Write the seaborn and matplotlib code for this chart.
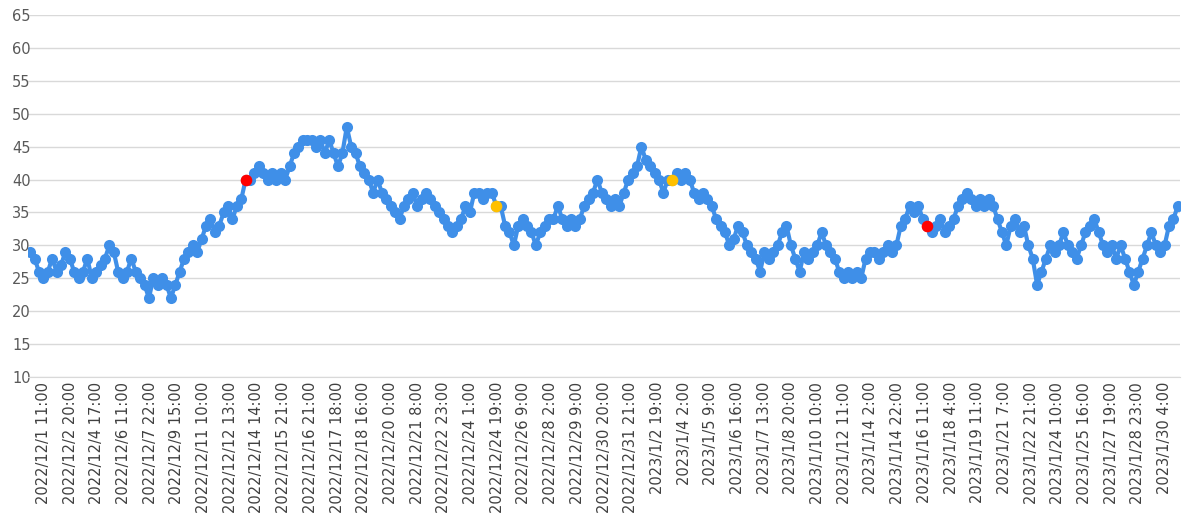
import matplotlib
matplotlib.use("Agg")
import matplotlib.pyplot as plt
import seaborn as sns
import pandas as pd
import numpy as np

values = [
29,28,26,25,26,28,26,27,29,28,26,25,
26,28,25,26,27,28,30,29,26,25,26,28,
26,25,24,22,25,24,25,24,22,24,26,28,
29,30,29,31,33,34,32,33,35,36,34,36,
37,38,40,41,42,41,40,41,40,41,40,42,
44,45,46,46,46,45,46,44,46,44,42,44,
48,45,44,42,41,40,38,40,38,37,36,35,
34,36,37,38,36,37,38,37,36,35,34,33,
32,33,34,36,35,38,38,37,38,38,37,36,
33,32,30,33,34,33,32,30,32,33,34,34,
36,34,33,34,33,34,36,37,38,40,38,37,
36,37,36,38,40,41,42,45,43,42,41,40,
38,40,42,41,40,41,40,38,37,38,37,36,
34,33,32,30,31,33,32,30,29,28,26,29,
28,29,30,32,33,30,28,26,29,28,29,30,
32,30,29,28,26,25,26,25,26,25,28,29,
29,28,29,30,29,30,33,34,36,35,36,34,
30,32,33,34,32,33,34,36,37,38,37,36,
37,36,37,36,34,32,30,33,34,32,33,30,
28,24,26,28,30,29,30,32,30,29,28,30,
32,33,34,32,30,29,30,28,30,28,26,24,
26,28,30,32,30,29,30,33,34,36]

tick_labels = ["2022/12/1 11:00","2022/12/2 20:00","2022/12/4 17:00","2022/12/6 11:00",
"2022/12/7 22:00","2022/12/9 15:00","2022/12/11 10:00","2022/12/12 13:00",
"2022/12/14 14:00","2022/12/15 21:00","2022/12/16 21:00","2022/12/17 18:00",
"2022/12/18 16:00","2022/12/20 0:00","2022/12/21 8:00","2022/12/22 23:00",
"2022/12/24 1:00","2022/12/24 19:00","2022/12/26 9:00","2022/12/28 2:00",
"2022/12/29 9:00","2022/12/30 20:00","2022/12/31 21:00","2023/1/2 19:00",
"2023/1/4 2:00","2023/1/5 9:00","2023/1/6 16:00","2023/1/7 13:00",
"2023/1/8 20:00","2023/1/10 10:00","2023/1/12 11:00","2023/1/14 2:00",
"2023/1/14 22:00","2023/1/16 11:00","2023/1/18 4:00","2023/1/19 11:00",
"2023/1/21 7:00","2023/1/22 21:00","2023/1/24 10:00","2023/1/25 16:00",
"2023/1/27 19:00","2023/1/28 23:00","2023/1/30 4:00"]
red_idx = [49, 204]
yellow_idx = [106, 146]

values[49] = 40; values[204] = 33; values[106] = 36; values[146] = 40

df = pd.DataFrame({"i": np.arange(len(values)), "v": values})
sns.set_style("white")
fig = plt.figure(figsize=(11.88, 5.23), dpi=100)
ax = fig.add_axes([28/1188, 1-377/523, 1152/1188, 362/523])
sns.lineplot(data=df, x="i", y="v", ax=ax, color="#3F8FE8", lw=3, marker="o",
             markersize=8, markeredgewidth=0, zorder=3)
ax.scatter(red_idx, [values[i] for i in red_idx], s=70, color="#FF0000", zorder=4, lw=0)
ax.scatter(yellow_idx, [values[i] for i in yellow_idx], s=70, color="#FFC000", zorder=4, lw=0)
ax.set_ylim(10, 65)
ax.set_yticks(range(10, 70, 5))
ax.set_xlim(-0.5, len(values) - 0.5)
n = len(tick_labels)
pos = np.linspace(3, 258, n)
ax.set_xticks(pos)
ax.set_xticklabels(tick_labels, rotation=90, fontsize=10.5, color="#404040")
ax.tick_params(axis="y", labelsize=10.5, labelcolor="#595959", length=0, pad=-2)
ax.tick_params(axis="x", length=0)
ax.yaxis.grid(True, color="#D9D9D9", lw=1)
for s in ["top", "right", "left"]:
    ax.spines[s].set_visible(False)
ax.spines["bottom"].set_color("#D9D9D9")
ax.set_xlabel(""); ax.set_ylabel("")
for lab in ax.get_yticklabels():
    lab.set_horizontalalignment("right")
fig.savefig("out.png", dpi=100)
